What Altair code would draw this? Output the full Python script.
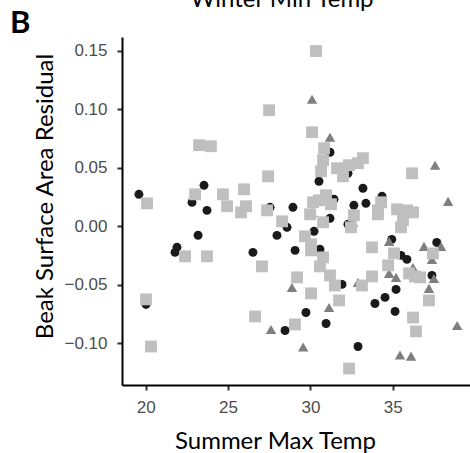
import altair as alt
import pandas as pd

# Black circles
circle_x = [19.59, 23.54, 22.81, 23.72, 23.18, 21.90, 21.78, 26.51, 27.55, 28.94,
            28.58, 27.97, 29.07, 20.02, 28.46, 31.19, 32.28, 30.52, 33.19, 34.35,
            31.43, 32.64, 33.37, 31.19, 32.28, 30.22, 30.58, 34.94, 37.67, 35.50,
            35.86, 37.38, 31.92, 35.20, 34.53, 33.92, 35.14, 29.73, 30.95, 32.89]
circle_y = [0.0271, 0.0348, 0.0202, 0.0134, -0.0079, -0.0182, -0.0225, -0.0225, 0.0160, 0.0160,
            -0.0011, -0.0080, -0.0208, -0.0670, -0.0893, 0.0631, 0.0451, 0.0383, 0.0323, 0.0254,
            0.0229, 0.0177, 0.0194, 0.0066, 0.0015, -0.0045, -0.0199, -0.0114, -0.0140, -0.0251,
            -0.0285, -0.0422, -0.0499, -0.0542, -0.0610, -0.0662, -0.0730, -0.0739, -0.0833, -0.1030]

# Dark grey triangles
tri_x = [30.10, 31.19, 37.57, 38.36, 32.58, 30.10, 34.78, 36.90, 37.93, 37.38,
         36.23, 34.78, 35.20, 37.50, 37.20, 28.88, 32.89, 31.13, 27.61, 38.91,
         29.56, 35.44, 36.11]
tri_y = [0.1084, 0.0759, 0.0520, 0.0211, 0.0032, 0.0117, -0.0131, -0.0174, -0.0174, -0.0285,
         -0.0354, -0.0405, -0.0439, -0.0448, -0.0533, -0.0525, -0.0482, -0.0696, -0.0884, -0.0850,
         -0.1034, -0.1103, -0.1112]

# Light grey squares
sq_x = [20.08, 20.02, 20.32, 23.24, 23.96, 27.49, 27.43, 23.00, 24.69, 25.97,
        24.94, 26.09, 25.79, 27.37, 28.28, 22.39, 23.72, 27.06, 29.19, 26.64,
        29.06, 30.34, 30.10, 30.83, 30.77, 30.65, 31.62, 32.34, 32.89, 33.19,
        31.98, 36.17, 30.95, 30.52, 30.16, 31.25, 34.29, 34.10, 34.10, 35.26,
        35.87, 36.23, 35.62, 35.50, 29.98, 32.64, 30.77, 32.46, 29.67, 30.04,
        30.04, 30.77, 30.58, 33.74, 35.08, 37.44, 34.72, 35.99, 36.35, 36.66,
        31.19, 31.49, 33.13, 33.74, 30.04, 31.74, 36.23, 36.41, 37.20, 32.35]
sq_y = [0.0194, -0.0627, -0.1030, 0.0691, 0.0682, 0.0990, 0.0425, 0.0271, 0.0271, 0.0314,
        0.0169, 0.0169, 0.0117, 0.0134, 0.0040, -0.0259, -0.0259, -0.0345, -0.0439, -0.0773,
        -0.0841, 0.1496, 0.0802, 0.0665, 0.0563, 0.0468, 0.0494, 0.0520, 0.0537, 0.0580,
        0.0425, 0.0451, 0.0263, 0.0220, 0.0203, 0.0186, 0.0203, 0.0134, 0.0100, 0.0143,
        0.0134, 0.0117, 0.0049, -0.0011, 0.0100, 0.0092, 0.0032, -0.0011, -0.0088, -0.0157,
        -0.0208, -0.0268, -0.0345, -0.0182, -0.0234, -0.0234, -0.0336, -0.0405, -0.0431, -0.0439,
        -0.0422, -0.0508, -0.0508, -0.0431, -0.0576, -0.0636, -0.0782, -0.0901, -0.0636, -0.1218]

groups = ["Low", "Mid", "High"]

df = pd.concat([
    pd.DataFrame({"x": circle_x, "y": circle_y, "g": groups[0]}),
    pd.DataFrame({"x": tri_x, "y": tri_y, "g": groups[1]}),
    pd.DataFrame({"x": sq_x, "y": sq_y, "g": groups[2]}),
], ignore_index=True)

x_ticks = [20, 25, 30, 35]
y_ticks = [-0.10, -0.05, 0.0, 0.05, 0.10, 0.15]

points = alt.Chart(df).mark_point(filled=True, opacity=1, strokeWidth=0).encode(
    x=alt.X("x:Q", scale=alt.Scale(domain=[18.561, 39.69], nice=False, zero=False),
            axis=alt.Axis(values=x_ticks, title="Summer Max Temp", titleX=153, titleY=63,
                          titleBaseline="alphabetic", titleAlign="center", labelPadding=9)),
    y=alt.Y("y:Q", scale=alt.Scale(domain=[-0.1359, 0.1616], nice=False, zero=False),
            axis=alt.Axis(values=y_ticks, format=".2f", title="Beak Surface Area Residual",
                          titleX=-70, titleY=159, titleAngle=270, titleBaseline="alphabetic",
                          titleAlign="center", labelPadding=10)),
    shape=alt.Shape("g:N", scale=alt.Scale(domain=groups, range=["circle", "triangle-up", "square"]), legend=None),
    color=alt.Color("g:N", scale=alt.Scale(domain=groups, range=["#1a1a1a", "#7f7f7f", "#bfbfbf"]), legend=None),
    size=alt.Size("g:N", scale=alt.Scale(domain=groups, range=[80, 140, 100]), legend=None),
)

panel_label = alt.Chart(pd.DataFrame({"t": ["B"]})).mark_text(
    font="Lato", fontSize=31, fontWeight="bold", align="left", baseline="alphabetic", color="black"
).encode(text="t:N", x=alt.value(-112), y=alt.value(-4))

top_title = alt.Chart(pd.DataFrame({"t": ["Winter Min Temp"]})).mark_text(
    font="Lato", fontSize=24, fontWeight="normal", align="center", baseline="alphabetic", color="black"
).encode(text="t:N", x=alt.value(160), y=alt.value(-30))

chart = alt.layer(points, panel_label, top_title).properties(
    width=348, height=348,
    autosize=alt.AutoSizeParams(type="none"),
    padding={"left": 122, "top": 37, "right": 0, "bottom": 68},
).configure_view(stroke=None).configure_axis(
    grid=False, domainColor="black", domainWidth=2, tickColor="#333333", tickWidth=2, tickSize=5,
    labelFont="Liberation Sans", labelFontSize=17, labelColor="#4d4d4d",
    titleFont="Lato", titleFontSize=24, titleFontWeight="normal", titleColor="black",
)

chart.save("out.html", embed_options={"renderer": "svg", "actions": False})
